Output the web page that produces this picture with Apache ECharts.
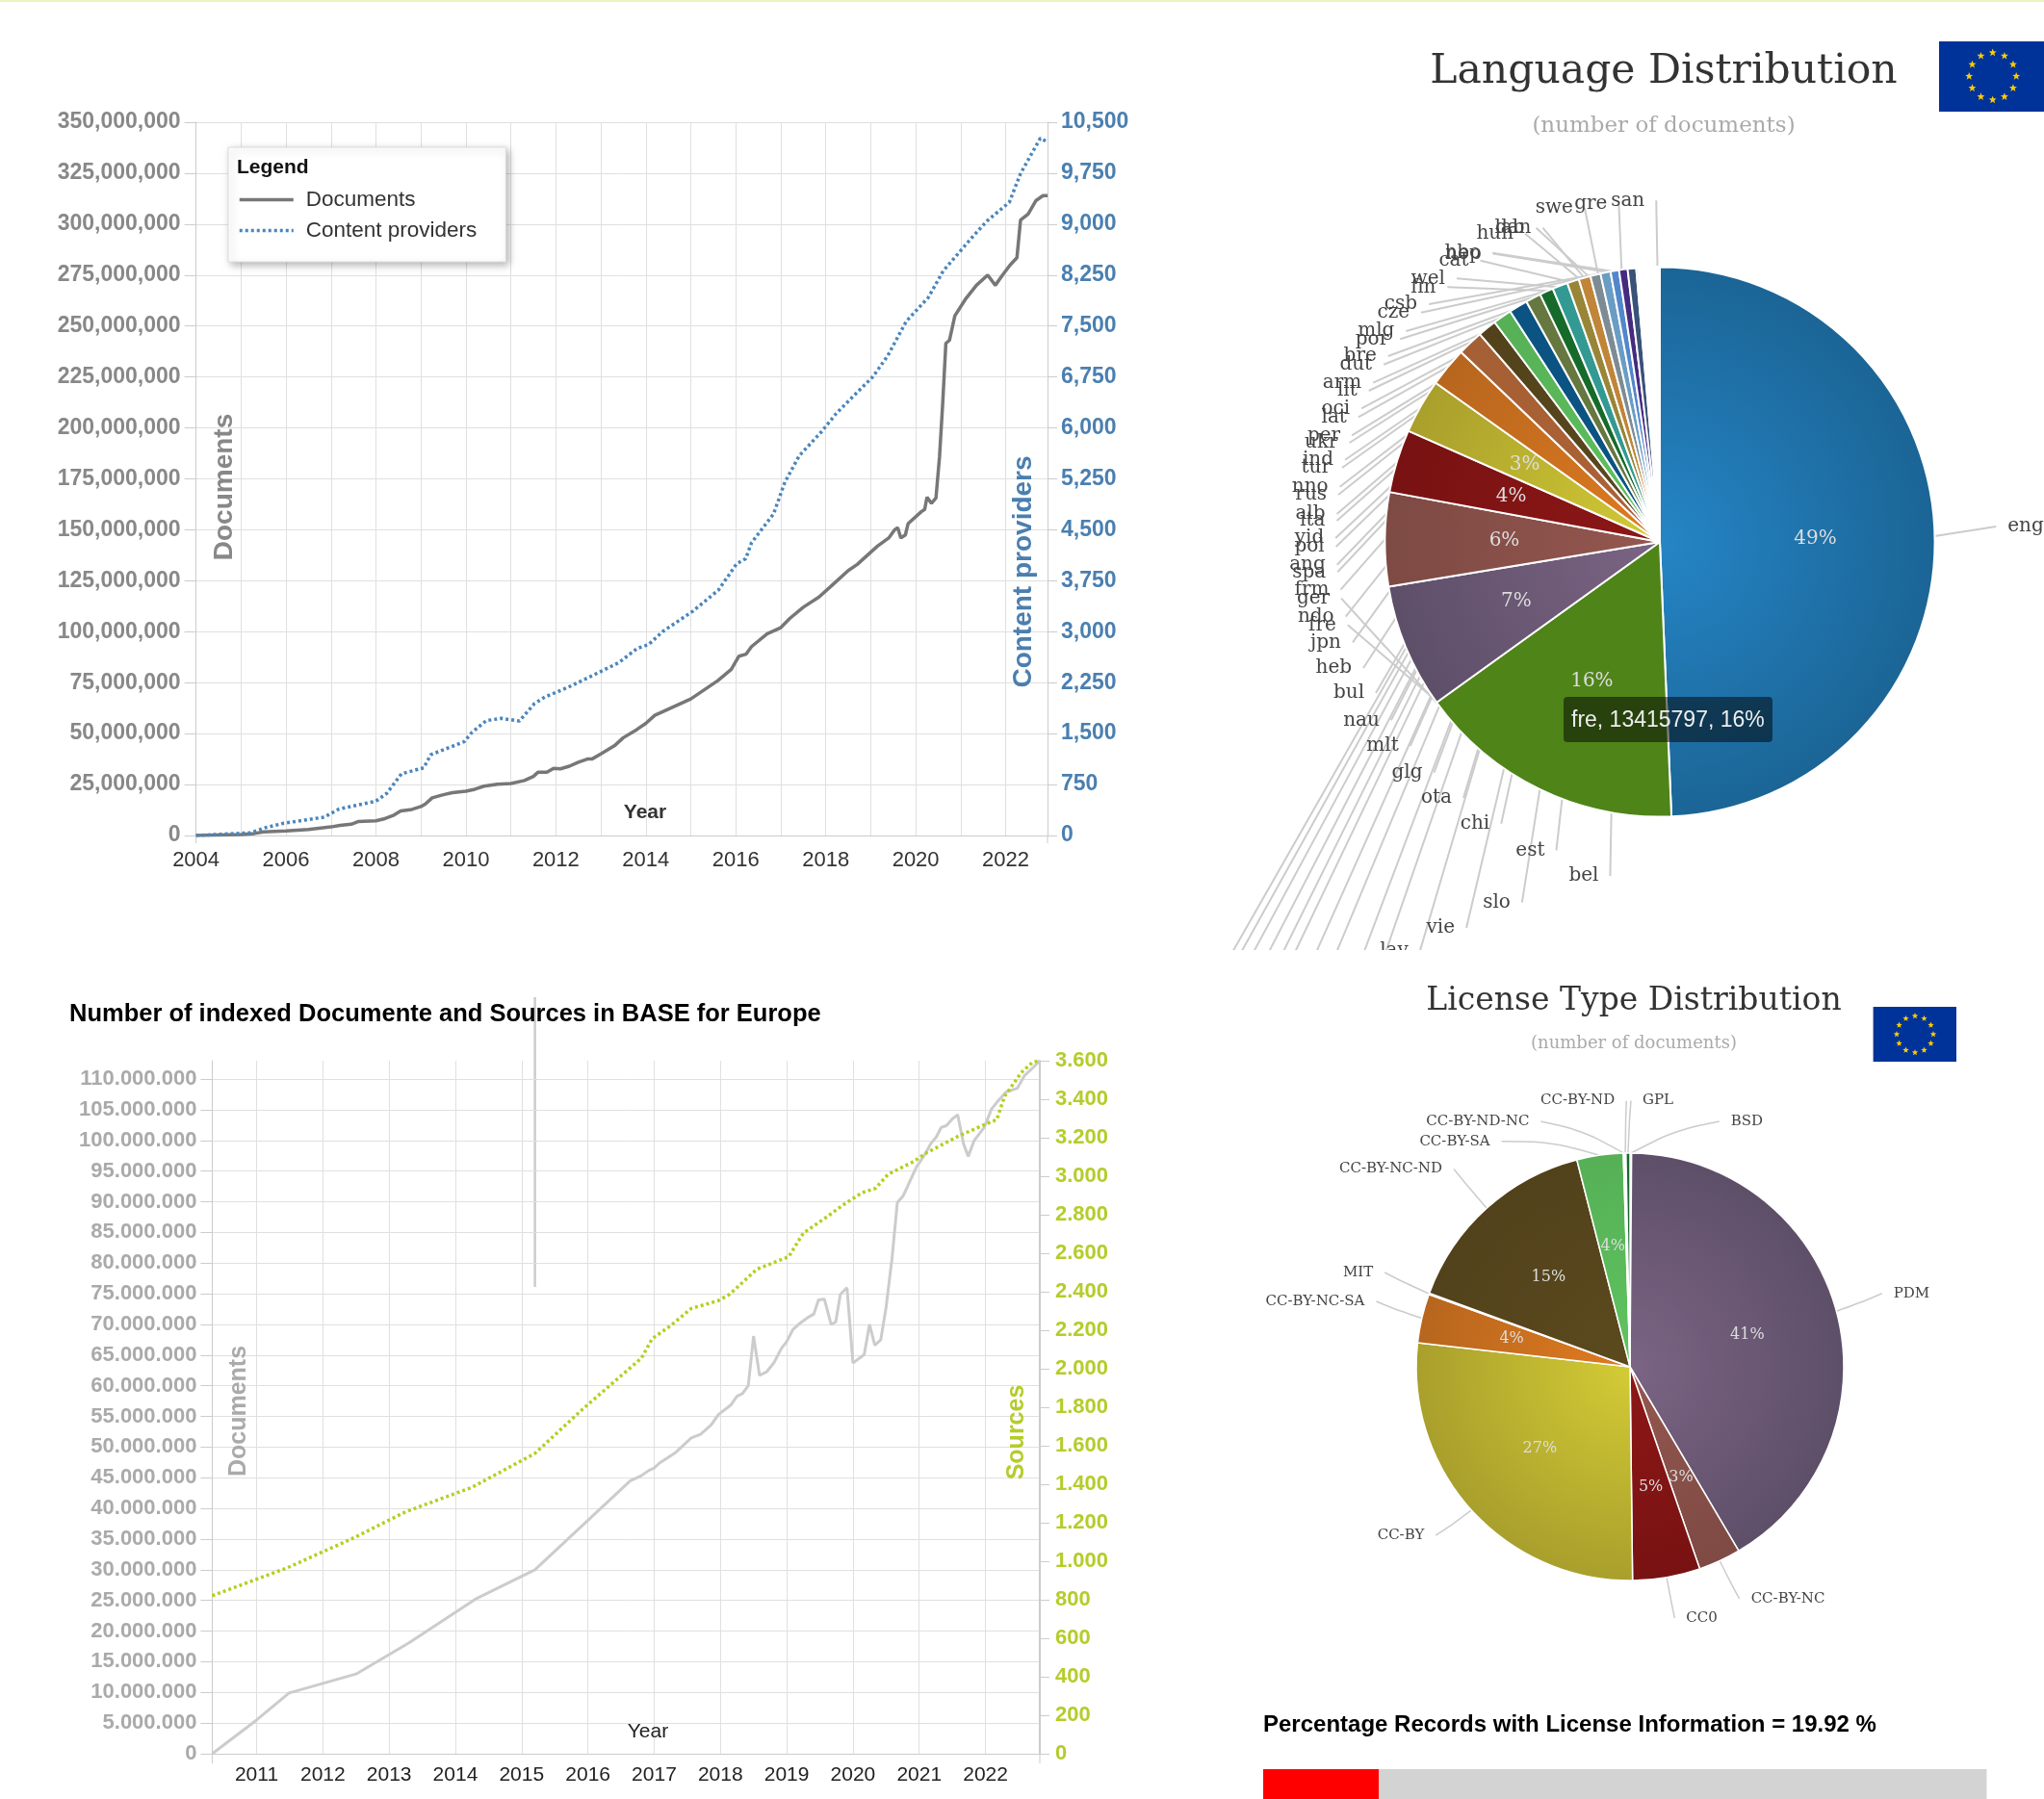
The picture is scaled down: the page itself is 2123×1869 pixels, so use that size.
<!DOCTYPE html>
<html><head><meta charset="utf-8">
<script src="https://cdn.jsdelivr.net/npm/echarts@6/dist/echarts.min.js"></script>
<style>
html,body{margin:0;padding:0;background:#fff;}
#main{position:absolute;left:0;top:0;width:2123px;height:1869px;}
#langPie{position:absolute;left:1280px;top:0;width:843px;height:987px;}
</style></head><body>
<div id="main"></div><div id="langPie"></div>
<script>
// ---- Top-left chart: all of BASE
var worldDocYears=[2004,2005,2005.3,2005.5,2006,2006.5,2007,2007.2,2007.45,2007.6,2008,2008.2,2008.4,2008.55,2008.8,2009,2009.1,2009.25,2009.5,2009.7,2010,2010.2,2010.4,2010.7,2011,2011.3,2011.5,2011.6,2011.8,2011.95,2012.1,2012.3,2012.5,2012.7,2012.8,2013,2013.3,2013.5,2013.8,2014,2014.2,2014.4,2015,2015.6,2015.9,2016.07,2016.23,2016.35,2016.7,2017,2017.2,2017.5,2017.85,2018.15,2018.5,2018.7,2019.15,2019.4,2019.53,2019.6,2019.67,2019.77,2019.83,2020.13,2020.2,2020.25,2020.35,2020.45,2020.53,2020.6,2020.67,2020.75,2020.87,2021.1,2021.35,2021.6,2021.77,2021.93,2022.1,2022.25,2022.33,2022.5,2022.67,2022.83,2022.93];
var worldDocMillions=[0,.5,1,1.8,2.2,3,4.2,5,5.5,6.8,7.2,8.3,10,12,12.8,14.2,15.5,18.5,20,21,21.7,22.7,24.2,25.2,25.5,27,29,31,31,33,32.7,34,36,37.5,37.5,40,44,48,52,55,59,61,67,76,81.5,88,89,92.7,99,102,106.5,112,117,123,130,133,142,146,150,151,146,147.5,153,159,160,166,163,165.6,186,212,241.5,243,255,263,270,275,270,275,280,283.5,302,305,311.5,314,314];
var worldProvYears=[2004,2005.21,2005.54,2005.95,2006.85,2007.18,2008,2008.24,2008.57,2009.06,2009.22,2009.96,2010.13,2010.45,2010.78,2011.19,2011.52,2011.76,2012.25,2012.66,2013.4,2013.81,2014.06,2014.38,2015.04,2015.61,2016.02,2016.22,2016.35,2016.84,2017.09,2017.41,2017.9,2018.23,2018.64,2019.05,2019.38,2019.79,2020.28,2020.61,2021.26,2021.59,2022.08,2022.33,2022.77,2022.93];
var worldProviders=[0,40,115,180,270,390,505,620,910,995,1190,1380,1515,1690,1725,1685,1940,2040,2175,2305,2545,2755,2810,3005,3300,3610,4000,4075,4310,4735,5200,5590,5940,6210,6485,6755,7065,7570,7920,8310,8810,9050,9320,9745,10265,10210];

// ---- Bottom-left chart: Europe
var euYearTicks=[2011,2012,2013,2014,2015,2016,2017,2018,2019,2020,2021,2022];
var euDocYears=[2010.33,2011,2011.49,2012.5,2013.3,2014.3,2015.2,2016.64,2016.8,2016.92,2017,2017.08,2017.31,2017.56,2017.7,2017.86,2017.97,2018.16,2018.25,2018.33,2018.42,2018.5,2018.59,2018.7,2018.81,2018.92,2019,2019.09,2019.2,2019.33,2019.41,2019.48,2019.57,2019.67,2019.74,2019.81,2019.91,2020,2020.17,2020.25,2020.33,2020.42,2020.5,2020.59,2020.67,2020.76,2020.87,2020.96,2021.09,2021.17,2021.26,2021.33,2021.41,2021.5,2021.58,2021.67,2021.74,2021.83,2021.98,2022.09,2022.17,2022.31,2022.48,2022.59,2022.72,2022.82];
var euDocMillions=[0,5.5,9.9,13,18.1,25.2,30,44.5,45.3,46.2,46.6,47.4,49,51.5,52.1,53.6,55.3,56.9,58.3,58.7,60,68.1,61.7,62.3,63.8,66.1,67.2,69.1,70.2,71.2,71.7,74,74.1,70,70.4,74.9,76,63.7,65.1,70,66.6,67.5,72.8,80.8,89.9,91,93.6,95.7,97.8,99.4,100.6,102.1,102.4,103.5,104.2,99.4,97.4,100,102.1,105.1,106.2,107.9,108.5,110.6,111.9,113];
var euSourceYears=[2010.33,2011.47,2012.47,2013.25,2014.25,2015.2,2015.92,2016.81,2016.97,2017.25,2017.56,2017.97,2018.14,2018.55,2019.03,2019.25,2019.59,2019.87,2020.14,2020.34,2020.53,2020.92,2021.09,2021.59,2021.98,2022.17,2022.29,2022.54,2022.71,2022.82];
var euSources=[821,967,1122,1257,1384,1560,1790,2056,2156,2224,2313,2354,2387,2517,2582,2704,2785,2855,2915,2937,3010,3077,3118,3208,3267,3294,3416,3538,3592,3600];

// ---- Language pie (clockwise from 12 o'clock)
var langNames=['eng','fre','ger','nor','rum','hrv','srp','slv','kor','ara','hin','tha','ben','lav','vie','slo','bel','est','chi','ota','glg','mlt','nau','bul','heb','jpn','ndo','frm','spa','ang','pol','yid','ita','alb','rus','nno','tur','ind','ukr','per','lat','oci','lit','arm','dut','bre','por','mlg','cze','csb','fin','wel','cat','nep','hbo','hun','lab','dan','swe','gre','san'];
var langValues=[42020000,13415797,6234000,4697000,3160000,2733000,1964000,1281000,939000,939000,930000,769000,683000,769000,598000,590000,512000,505000,427000,427000,427000,102000,85000,85000,68000,23000,23000,23000,23000,23000,23000,23000,23000,23000,23000,23000,23000,23000,23000,23000,23000,23000,23000,23000,23000,23000,23000,23000,23000,23000,23000,23000,23000,23000,23000,23000,23000,23000,23000,23000,23000];
// where the crowded language labels sit on the page (label layout, not marks)
var langLabelSpots={eng:[2104,547],san:[1690.7,208.3],gre:[1652.3,211.7],swe:[1614.3,216],dan:[1571.7,236.7],lab:[1568,236.7],hun:[1552.7,242.7],hbo:[1519.3,262.7],nep:[1520,263.5],cat:[1510,270.7],wel:[1483.3,289.3],fin:[1478.3,298.3],csb:[1455,316],cze:[1447.3,324.7],mlg:[1429.3,344],por:[1425,352.3],bre:[1412.7,370],dut:[1408.3,378.7],arm:[1394,397.7],lit:[1399.3,406],oci:[1387.3,424.3],lat:[1385.7,433.3],per:[1375,452.3],ukr:[1372.3,460],ind:[1369,477.7],tur:[1366.7,486],nno:[1360.7,505.7],rus:[1361.7,514],alb:[1361,534],ita:[1363.3,541],yid:[1360,559],pol:[1360,568],ang:[1358,586.7],spa:[1359.8,594.3],frm:[1362.5,612.7],ger:[1364,621.7],ndo:[1366.8,640.7],fre:[1373.4,649.3],jpn:[1377,667.3],heb:[1385.3,694],bul:[1401,720],nau:[1414,748.3],mlt:[1436,775],glg:[1461.5,802.7],ota:[1492,829],chi:[1532,855.7],est:[1589.4,883.3],bel:[1644.9,910],slo:[1554.5,937.7],vie:[1496.3,964],lav:[1448,988],nor:[1401,1015],rum:[1364,1042],hrv:[1326,1069],srp:[1291,1096],slv:[1255,1123],kor:[1224,1150],ara:[1192,1177],hin:[1158,1204],tha:[1126,1231],ben:[1096,1258]};
// clock angle at which a label's leader reaches the pie, where it is not its own slice's midpoint
var langLeaderAngles={san:359.5,gre:352,swe:347,dan:344,lab:345,hun:343,hbo:350,nep:349,cat:341,wel:338,fin:336,ger:233.8};
var langLeaderDefault=352;

// ---- License pie
var licenseNames=['BSD','PDM','CC-BY-NC','CC0','CC-BY','CC-BY-NC-SA','MIT','CC-BY-NC-ND','CC-BY-SA','CC-BY-ND-NC','CC-BY-ND','GPL'];
var licenseValues=[0.12,41.4,3.2,5.1,27,3.7,0.1,15.4,3.5,0.1,0.1,0.3];
var licenseLabelSpots={'CC-BY-ND':[1638.6,1143.6],GPL:[1722,1143.6],BSD:[1814.4,1165],'CC-BY-ND-NC':[1534.8,1165],'CC-BY-SA':[1511,1185.7],'CC-BY-NC-ND':[1444.5,1214.5],MIT:[1410.6,1322],'CC-BY-NC-SA':[1366,1352],PDM:[1985.4,1343.7],'CC-BY':[1455,1595],CC0:[1767.6,1681],'CC-BY-NC':[1857,1661]};

// ---- License coverage bar
var coverageLabel='Percentage Records with License Information = 19.92 %';
var coverageShares=[16,84];

// ---- Colours: [centre, rim]
var sliceColours=[['#2585c6','#1b6596'],['#4f8419','#4f8419'],['#7b6484','#5e4f69'],['#94574f','#7e4a44'],['#8e1717','#781212'],['#d3cb35','#a99f2c'],['#e07b20','#b7661e'],['#ad6236','#a55f34'],['#5c4a1e','#52421b'],['#5fc45f','#56b056'],['#0b5383','#0b5383'],['#66773f','#66773f'],['#166b2b','#166b2b'],['#339a93','#339a93'],['#988537','#988537'],['#c08538','#c08538'],['#7d8c94','#7d8c94'],['#6a9dc4','#6a9dc4'],['#5287cc','#5287cc'],['#452a80','#452a80'],['#3a5278','#3a5278'],['#5cb85c','#5cb85c'],['#c9a45c','#c9a45c'],['#7a8fc0','#7a8fc0'],['#8fb85c','#8fb85c']];

function pairs(xs,ys,k){return xs.map(function(x,i){return [x,ys[i]*(k||1)];});}
function commas(v){return Math.round(v).toLocaleString('en-US');}
function dots(v){return Math.round(v).toLocaleString('en-US').replace(/,/g,'.');}
var sans='"Liberation Sans",Arial,sans-serif', serif='"DejaVu Serif",serif';
var gridCol='#e0e0e0';

function flag(x,y,w,h,cx,cy,rad,sr){
  var els=[{type:'rect',shape:{x:x,y:y,width:w,height:h},style:{fill:'#003399'}}];
  for(var i=0;i<12;i++){
    var a=i*Math.PI/6, sx=cx+rad*Math.sin(a), sy=cy-rad*Math.cos(a), pts=[];
    for(var j=0;j<10;j++){var r=j%2?sr*0.42:sr, b=j*Math.PI/5; pts.push([sx+r*Math.sin(b),sy-r*Math.cos(b)]);}
    els.push({type:'polygon',shape:{points:pts},style:{fill:'#ffcc00'}});
  }
  return els;
}
function vtext(t,x,y,fs,col){return {type:'text',x:x,y:y,rotation:Math.PI/2,z:50,style:{text:t,font:'bold '+fs+'px '+sans,fill:col,textAlign:'center',textVerticalAlign:'middle'}};}
function htext(t,x,y,font,col,al){return {type:'text',x:x,y:y,z:50,style:{text:t,font:font,fill:col,textAlign:al||'left',textVerticalAlign:'middle'}};}
function tick(x,y1,y2){return {type:'line',shape:{x1:x,y1:y1,x2:x,y2:y2},style:{stroke:'#cccccc',lineWidth:1}};}

function sliceFill(i,cx,cy,R){
  var c=sliceColours[i%sliceColours.length];
  return {type:'radial',x:cx,y:cy,r:R,global:true,colorStops:[{offset:0,color:c[0]},{offset:1,color:c[1]}]};
}
function pieItems(names,values,cx,cy,R,off){
  return names.map(function(n,i){return {name:n,value:values[i],itemStyle:{color:sliceFill(i+off,cx,cy,R)}};});
}
function pctLabel(min,fs){return {show:true,position:'inside',color:'#ddd',fontFamily:serif,fontSize:fs,formatter:function(p){return p.percent>=min?Math.round(p.percent)+'%':'';}};}

// Put a pie's outer label at its spot and run the leader from the pie to the label's near edge.
function placeLabel(names,spots,offX,cx,cy,R,angles,defAngle,bow){
  return function(p){
    var n=names[p.dataIndex], s=spots[n]; if(!s) return {};
    var lx=s[0]-offX, ly=s[1], w=p.labelRect.width, right=lx>cx;
    var end=[lx+(right?-1:1)*(w/2+12),ly], start=p.labelLinePoints?p.labelLinePoints[0]:[cx,cy-R];
    if(angles&&(n in angles||(defAngle!=null&&n!=='eng'&&n!=='fre'))){
      var a=(n in angles?angles[n]:defAngle)*Math.PI/180;
      start=[cx+R*Math.sin(a),cy-R*Math.cos(a)];
    }
    var ux=start[0]-cx,uy=start[1]-cy,ul=Math.sqrt(ux*ux+uy*uy)||1;
    var mid=[(start[0]+end[0])/2+ux/ul*bow,(start[1]+end[1])/2+uy/ul*bow];
    return {x:lx,y:ly,align:'center',verticalAlign:'middle',labelLinePoints:[start,mid,end]};
  };
}

// ---- Main canvas
var main=echarts.init(document.getElementById('main'),null,{renderer:'canvas'});
var G1={left:203.6,top:127,width:884.4,height:741};
var G2={left:220.4,top:1102,width:859.6,height:720};
var licCx=1693,licCy=1420,licR=222;
function yAxis(gi,max,step,color,fmt,pos,fs,margin,hideMax,nudge){
  return {type:'value',gridIndex:gi,min:0,max:max,interval:step,position:pos,
    axisLine:{show:true,lineStyle:{color:'#cccccc',width:pos==='right'&&gi===1?2:1}},
    axisTick:{show:true,length:pos==='left'?12:10,lineStyle:{color:'#cccccc'}},
    splitLine:{show:pos==='left',showMaxLine:!hideMax,lineStyle:{color:gridCol,width:1}},
    axisLabel:{color:color,fontFamily:sans,fontWeight:'bold',fontSize:fs,margin:margin,formatter:fmt,showMaxLabel:!hideMax,padding:[nudge,0,0,0]}};
}
main.setOption({
  animation:false,
  title:[
    {text:'License Type Distribution',subtext:'(number of documents)',left:1692,top:1019,textAlign:'center',itemGap:18,
     textStyle:{fontFamily:serif,fontWeight:'normal',fontSize:33,color:'#333'},
     subtextStyle:{fontFamily:serif,fontSize:18,color:'#aaa'}},
    {text:'Number of indexed Documente and Sources in BASE for Europe',left:67,top:1036,
     textStyle:{fontFamily:sans,fontWeight:'bold',fontSize:25.5,color:'#000'}}
  ],
  legend:{left:237,top:153,orient:'vertical',padding:[43,30,21,10],itemGap:9,itemWidth:56,itemHeight:14,
    backgroundColor:'#fff',borderColor:'#ddd',borderWidth:1,shadowColor:'rgba(0,0,0,.3)',shadowBlur:8,shadowOffsetX:3,shadowOffsetY:3,
    itemStyle:{opacity:0},lineStyle:{width:3.5},
    textStyle:{fontFamily:sans,fontSize:22.5,color:'#333',padding:[0,0,0,8]},data:['Documents','Content providers']},
  grid:[Object.assign({containLabel:false},G1),Object.assign({containLabel:false},G2),
        {left:1312,top:1838,width:751.5,height:31}],
  xAxis:[
    {type:'value',gridIndex:0,min:2004,max:2022.93,interval:1,
     axisLine:{lineStyle:{color:'#cccccc'}},axisTick:{show:false},
     splitLine:{show:true,lineStyle:{color:gridCol}},
     axisLabel:{color:'#333',fontFamily:sans,fontSize:22,margin:15,showMaxLabel:false,hideOverlap:false,interval:0,
       formatter:function(v){return v%2===0?String(v):'';}}},
    {type:'value',gridIndex:1,min:2010.33,max:2022.82,
     axisLine:{lineStyle:{color:'#cccccc'}},axisTick:{show:false,customValues:euYearTicks},
     splitLine:{show:true,lineStyle:{color:gridCol}},
     axisLabel:{color:'#222',fontFamily:sans,fontSize:21,margin:12,customValues:euYearTicks,
       formatter:function(v){return String(v);}}},
    {type:'value',gridIndex:2,min:0,max:100,show:false}
  ],
  yAxis:[
    yAxis(0,350000000,25000000,'#888888',commas,'left',23,16,false,3),
    yAxis(0,10500,750,'#4a7fb0',commas,'right',23,14,false,3),
    yAxis(1,113000000,5000000,'#aaaaaa',dots,'left',22,16,true,1),
    yAxis(1,3600,200,'#b5cc2a',dots,'right',22,16,false,1),
    {type:'category',gridIndex:2,data:['records'],show:false}
  ],
  series:[
    {name:'Documents',type:'line',xAxisIndex:0,yAxisIndex:0,showSymbol:false,symbol:'none',data:pairs(worldDocYears,worldDocMillions,1e6),lineStyle:{color:'#777777',width:3.5},itemStyle:{color:'#777777'}},
    {name:'Content providers',type:'line',xAxisIndex:0,yAxisIndex:1,showSymbol:false,symbol:'none',data:pairs(worldProvYears,worldProviders),lineStyle:{color:'#4a86bd',width:3.5,type:[3,3]},itemStyle:{color:'#4a86bd'}},
    {name:'EU documents',type:'line',xAxisIndex:1,yAxisIndex:2,showSymbol:false,symbol:'none',data:pairs(euDocYears,euDocMillions,1e6),lineStyle:{color:'#cccccc',width:3}},
    {name:'EU sources',type:'line',xAxisIndex:1,yAxisIndex:3,showSymbol:false,symbol:'none',data:pairs(euSourceYears,euSources),lineStyle:{color:'#b5cf1f',width:3.5,type:[3,3]}},
    {name:'License',type:'pie',center:[licCx,licCy],radius:[0,licR],startAngle:90,clockwise:true,avoidLabelOverlap:false,
     itemStyle:{borderColor:'#fff',borderWidth:1.5},
     label:{show:true,position:'outer',fontFamily:serif,fontSize:15,color:'#444'},
     labelLine:{show:true,length:22,length2:38,smooth:0.3,lineStyle:{color:'#ccc',width:1.5}},
     labelLayout:placeLabel(licenseNames,licenseLabelSpots,0,licCx,licCy,licR,null,null,7),
     data:pieItems(licenseNames,licenseValues,licCx,licCy,licR,1)},
    {name:'License pct',type:'pie',silent:true,center:[licCx,licCy],radius:[0,licR*1.11],startAngle:90,
     itemStyle:{color:'rgba(0,0,0,0)',borderWidth:0},label:pctLabel(2.5,16),labelLine:{show:false},
     data:licenseNames.map(function(n,i){return {name:n,value:licenseValues[i]};})},
    {name:'With licence',type:'bar',stack:'cov',xAxisIndex:2,yAxisIndex:4,barWidth:'100%',data:[coverageShares[0]],itemStyle:{color:'#ff0000'}},
    {name:'Without licence',type:'bar',stack:'cov',xAxisIndex:2,yAxisIndex:4,barWidth:'100%',data:[coverageShares[1]],itemStyle:{color:'#d3d3d3'}}
  ],
  graphic:{elements:[
    {type:'rect',shape:{x:0,y:0,width:2123,height:2},style:{fill:'#eef3c4'}},
    htext('Legend',246,174,'bold 21px '+sans,'#111'),
    vtext('Documents',233,506,28,'#888888'),
    vtext('Content providers',1063,594,28,'#4a7fb0'),
    htext('Year',670,844,'bold 21px '+sans,'#333','center'),
    vtext('Documents',248,1466,25,'#aaaaaa'),
    vtext('Sources',1056,1488,25,'#b5cc2a'),
    htext('Year',673,1799,'21px '+sans,'#222','center'),
    tick(203.6,868,876),tick(1088,868,876),tick(220.4,1822,1832),tick(1080,1822,1832),
    {type:'line',shape:{x1:555.6,y1:1036,x2:555.6,y2:1337},style:{stroke:'#cccccc',lineWidth:2.5}},
    htext(coverageLabel,1312,1792,'bold 24px '+sans,'#000')
  ].concat(flag(2014,43,110,73,2069.7,79.3,24.5,4.2)).concat(flag(1945.6,1046,86.4,57,1989,1074.5,19,3.4))}
});

// ---- Language pie canvas (its bottom edge cuts the chart off)
var lp=echarts.init(document.getElementById('langPie'),null,{renderer:'canvas'});
var lcx=444,lcy=563,lR=285.6;
lp.setOption({
  animation:false,
  title:{text:'Language Distribution',subtext:'(number of documents)',left:443,top:48,textAlign:'center',itemGap:24,
    textStyle:{fontFamily:serif,fontWeight:'normal',fontSize:42.5,color:'#333'},
    subtextStyle:{fontFamily:serif,fontSize:23,color:'#aaa'}},
  tooltip:{trigger:'item',alwaysShowContent:true,showDelay:0,transitionDuration:0,position:[344,724],
    backgroundColor:'rgba(0,0,0,0.5)',borderWidth:0,padding:[6,8],extraCssText:'border-radius:4px;box-shadow:none;',
    textStyle:{color:'#eee',fontFamily:sans,fontSize:23},
    formatter:function(p){return p.name+', '+p.value+', '+Math.round(p.percent)+'%';}},
  series:[
    {name:'Language',type:'pie',center:[lcx,lcy],radius:[0,lR],startAngle:90,clockwise:true,avoidLabelOverlap:false,
     itemStyle:{borderColor:'#fff',borderWidth:2},
     label:{show:true,position:'outer',fontFamily:serif,fontSize:20,color:'#444'},
     labelLine:{show:true,length:20,length2:20,smooth:0.2,lineStyle:{color:'#ccc',width:2}},
     labelLayout:placeLabel(langNames,langLabelSpots,1280,lcx,lcy,lR,langLeaderAngles,langLeaderDefault,0),
     data:pieItems(langNames,langValues,lcx,lcy,lR,0)},
    {name:'Language pct',type:'pie',silent:true,center:[lcx,lcy],radius:[0,lR*1.11],startAngle:90,tooltip:{show:false},
     itemStyle:{color:'rgba(0,0,0,0)',borderWidth:0},label:pctLabel(3,20),labelLine:{show:false},
     data:langNames.map(function(n,i){return {name:n,value:langValues[i]};})}
  ]
});
lp.dispatchAction({type:'showTip',seriesIndex:0,dataIndex:1});
</script>
</body></html>
